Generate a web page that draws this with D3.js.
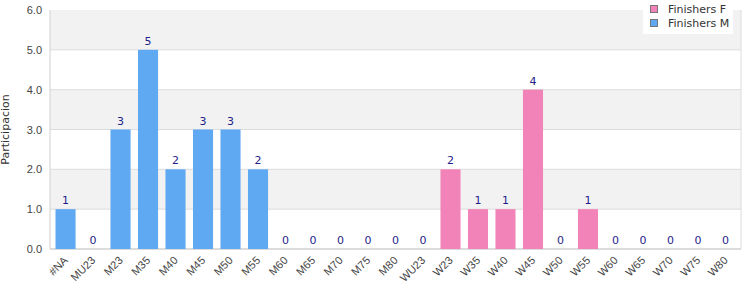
<!DOCTYPE html>
<html><head><meta charset="utf-8">
<script src="https://cdn.jsdelivr.net/npm/d3@7"></script>
<style>body{margin:0;background:#fff}svg{font-family:"DejaVu Sans",Verdana,sans-serif}</style>
</head><body><div id="c"></div>
<script>
const categories=["#NA","MU23","M23","M35","M40","M45","M50","M55","M60","M65","M70","M75","M80","WU23","W23","W35","W40","W45","W50","W55","W60","W65","W70","W75","W80"];
const values=[1,0,3,5,2,3,3,2,0,0,0,0,0,0,2,1,1,4,0,1,0,0,0,0,0];
const series=["M","M","M","M","M","M","M","M","M","M","M","M","M","W","W","W","W","W","W","W","W","W","W","W","W"];
const yTicks=[0,1,2,3,4,5,6];
const legendNames=["Finishers F","Finishers M"];
const colors={W:"#f283b8",M:"#5fa8f2"};

const W=750,H=300,m={l:50,r:9,t:10,b:51};
const svg=d3.select("#c").append("svg").attr("width",W).attr("height",H);
const x=d3.scaleBand().domain(categories).range([m.l,W-m.r]).paddingInner(0.27).paddingOuter(0.2);
const y=d3.scaleLinear().domain([0,6]).range([H-m.b,m.t]);
for(let i=0;i<6;i++){
  if(i%2===1) svg.append("rect").attr("x",m.l).attr("width",W-m.r-m.l).attr("y",y(i+1)).attr("height",y(i)-y(i+1)).attr("fill","#f2f2f2");
}
svg.append("g").selectAll("line").data(yTicks.slice(1,6)).join("line")
  .attr("x1",m.l).attr("x2",W-m.r).attr("y1",d=>y(d)).attr("y2",d=>y(d)).attr("stroke","#dcdcdc");
svg.append("line").attr("x1",W-m.r).attr("x2",W-m.r).attr("y1",m.t).attr("y2",H-m.b).attr("stroke","#dcdcdc");
svg.append("line").attr("x1",m.l).attr("x2",m.l).attr("y1",m.t).attr("y2",H-m.b).attr("stroke","#d0d0d0");
svg.append("line").attr("x1",m.l).attr("x2",W-m.r).attr("y1",H-m.b).attr("y2",H-m.b).attr("stroke","#d0d0d0").attr("stroke-width",1.5);
const ya=svg.append("g").attr("transform",`translate(${m.l},0)`).call(d3.axisLeft(y).tickValues(yTicks).tickFormat(d3.format(".1f")).tickSize(0).tickPadding(8));
ya.select(".domain").remove();
ya.selectAll("text").attr("fill","#444").style("font-size","11px");
svg.append("text").attr("transform",`translate(9,${(m.t+H-m.b)/2}) rotate(-90)`).attr("text-anchor","middle").attr("fill","#333").style("font-size","11px").text("Participacion");
const xa=svg.append("g").attr("transform",`translate(0,${H-m.b})`).call(d3.axisBottom(x).tickSize(0).tickPadding(0));
xa.select(".domain").remove();
xa.selectAll("text").attr("fill","#444").style("font-size","11px").attr("text-anchor","end")
  .attr("dy",0).attr("transform","translate(3,12) rotate(-45)");
svg.append("g").selectAll("rect").data(categories).join("rect")
  .attr("x",d=>x(d)).attr("width",x.bandwidth())
  .attr("y",(d,i)=>y(values[i])).attr("height",(d,i)=>y(0)-y(values[i]))
  .attr("fill",(d,i)=>colors[series[i]]);
svg.append("g").selectAll("text").data(categories).join("text")
  .attr("x",d=>x(d)+x.bandwidth()/2).attr("y",(d,i)=>y(values[i])-5)
  .attr("text-anchor","middle").attr("fill","#1f1f8a").style("font-size","11px")
  .text((d,i)=>values[i]);
const lg=svg.append("g");
lg.append("rect").attr("x",643).attr("y",0).attr("width",90).attr("height",34).attr("fill","#fff");
legendNames.forEach((n,i)=>{
  const k=i===0?"W":"M";
  lg.append("rect").attr("x",650.5).attr("y",5.5+i*14).attr("width",7).attr("height",7).attr("fill",colors[k]).attr("stroke","#777");
  lg.append("text").attr("x",668).attr("y",13+i*14).attr("fill","#333").style("font-size","11px").text(n);
});
</script></body></html>
